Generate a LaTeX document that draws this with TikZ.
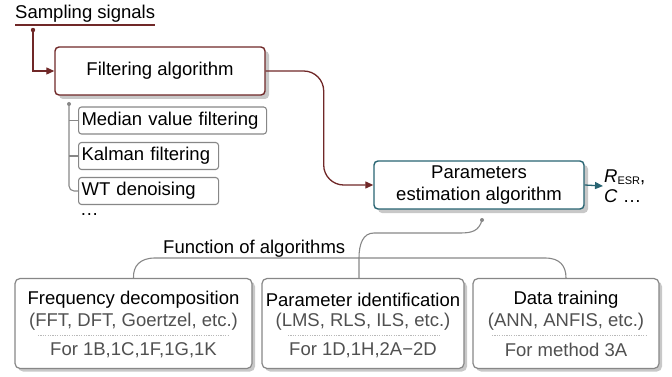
\documentclass[tikz,border=0pt]{standalone}
\usepackage{fontspec}
\setmainfont{Liberation Sans}
\usetikzlibrary{shadows,arrows.meta,calc}
\definecolor{dred}{RGB}{112,40,40}
\definecolor{teal2}{RGB}{40,100,114}
\definecolor{lgray}{RGB}{135,135,135}
\definecolor{shd}{RGB}{200,200,200}
\definecolor{txtg}{RGB}{80,80,80}
\definecolor{dotg}{RGB}{185,185,185}
\begin{document}
\begin{tikzpicture}[x=1pt,y=-1pt,font=\fontsize{18.5}{22}\selectfont,
  shbox/.style={draw,fill=white,rounded corners=4pt,line width=1.4pt,
    drop shadow={shadow xshift=4pt,shadow yshift=-4pt,fill=shd,opacity=1}},
  subbox/.style={draw=lgray,fill=white,rounded corners=3pt,line width=1.1pt,
    anchor=west,inner xsep=3pt,inner ysep=0pt,minimum height=27pt,align=left},
  botbox/.style={draw=lgray,fill=white,rounded corners=5pt,line width=1.2pt,
    minimum height=90pt,
    drop shadow={shadow xshift=3pt,shadow yshift=-3pt,fill=shd,opacity=1}},
  gline/.style={draw=lgray,line width=1.1pt},
  tip/.style={-{Triangle[length=8pt,width=7pt]}},
  sub/.style={text=txtg,inner sep=0pt},
  sep/.style={draw=dotg,line width=1pt,dash pattern=on 1.2pt off 1.2pt}]
\useasboundingbox (0,0) rectangle (672,377);

% top
\node (samp) [anchor=base west,inner sep=0pt] at (15,19) {Sampling signals};
\draw[dred,line width=1.2pt] ([yshift=-6pt]samp.base west) -- ([yshift=-6pt]samp.base east);

\node (filt) [shbox,draw=dred,minimum width=210pt,minimum height=48pt] at (160,71) {Filtering algorithm};
\node (param) [shbox,draw=teal2,minimum width=210pt,minimum height=48pt,align=center] at (479,185)
  {Parameters\\estimation algorithm};

\coordinate (sdot) at (33,30);
\fill[dred] (sdot) circle (2.2pt);
\draw[dred,line width=1.2pt,tip] (sdot) |- (filt.west);

\draw[dred,line width=1.3pt,rounded corners=20pt,tip] (filt.east) -- ++(58,0) |- (param.west);

\node (out) [anchor=west,align=left,inner sep=1pt,font=\fontsize{18.5}{20}\selectfont] at (603,186)
  {\textit{R}\raisebox{-2pt}{\fontsize{11}{12}\selectfont ESR},\\\textit{C} …};
\draw[teal2,line width=1.3pt,tip] (param.east) -- (out.west);

% sub-boxes
\node (med) [subbox,text width=182pt] at (78,120.5) {Median value filtering};
\node (kal) [subbox,text width=134pt] at (78,156) {Kalman filtering};
\node (wt)  [subbox,text width=134pt] at (78,191) {WT denoising};
\node (dots) [anchor=base west,inner sep=0pt] at (80,215) {…};

\coordinate (fdot) at (69,104);
\fill[lgray] (fdot) circle (2pt);
\draw[gline,rounded corners=5pt] (fdot) |- (wt.west);
\draw[gline] (fdot |- med.west) -- (med.west);
\draw[gline] (fdot |- kal.west) -- (kal.west);

% bottom boxes
\node (b1) [botbox,minimum width=237pt] at (133.5,323.5) {};
\node (b2) [botbox,minimum width=202pt] at (363,323.5) {};
\node (b3) [botbox,minimum width=186pt] at (566,323.5) {};

\node (b1t) [inner sep=0pt] at (133.5,300) {Frequency decomposition};
\node (b1a) [sub] at (133.5,321.5) {(FFT, DFT, Goertzel, etc.)};
\node (b1b) [sub] at (133.5,350) {For 1B,1C,1F,1G,1K};
\draw[sep] (38,335) -- (229,335);

\node (b2t) [inner sep=0pt] at (363,300) {Parameter identification};
\node (b2a) [sub] at (363,321.5) {(LMS, RLS, ILS, etc.)};
\node (b2b) [sub] at (363,350) {For 1D,1H,2A−2D};
\draw[sep] (288,335) -- (440,335);

\node (b3t) [inner sep=0pt] at (566,300) {Data training};
\node (b3a) [sub] at (566,321.5) {(ANN, ANFIS, etc.)};
\node (b3b) [sub] at (566,350) {For method 3A};
\draw[sep] (492,335) -- (646,335);

\node (func) [anchor=base west,inner sep=0pt] at (163,253) {Function of algorithms};

% function connectors
\coordinate (pdot) at (482,220);
\coordinate (jn) at (359,258);
\coordinate (hl) at (155,258);
\coordinate (hr) at (545,258);
\fill[lgray] (pdot) circle (2pt);
\draw[gline] (pdot) .. controls (479,231) and (472,233) .. (460,233) -- (374,233)
  .. controls (363,233) and (359,244) .. (jn) -- (jn |- b2.north);
\draw[gline] (b1.north) .. controls (133,266) and (140,258) .. (hl) -- (hr)
  .. controls (560,258) and (566,266) .. (b3.north);
\end{tikzpicture}
\end{document}
